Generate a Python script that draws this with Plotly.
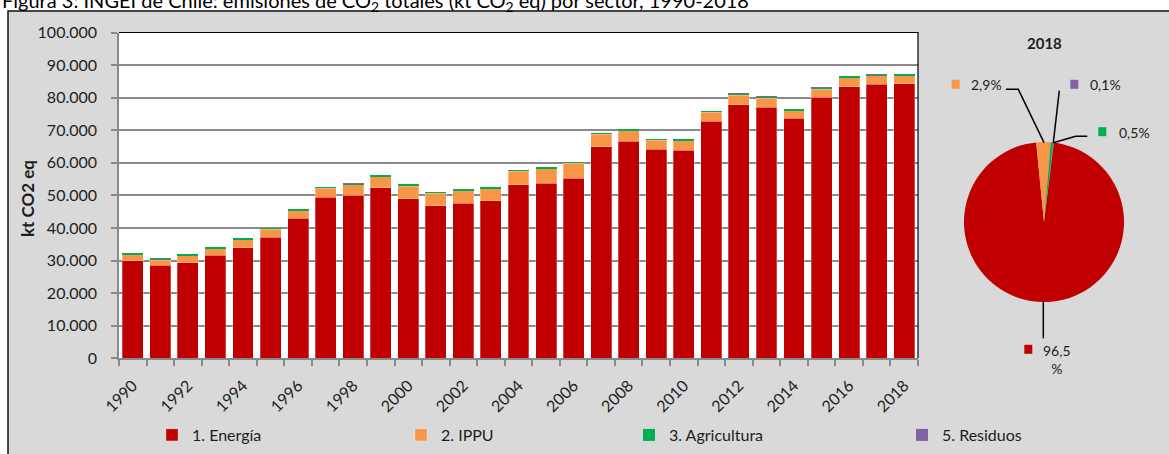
import plotly.graph_objects as go

# ---------------- data ----------------
years = list(range(1990, 2019))
energia = [30000, 28500, 29400, 31600, 34000, 37100, 43000, 49500, 50000, 52300,
           49000, 46900, 47600, 48300, 53300, 53800, 55300, 65000, 66600, 64100,
           63800, 72700, 77900, 77100, 73700, 80100, 83400, 84100, 84200]
ippu = [1750, 1650, 2150, 2050, 2450, 2450, 2350, 2650, 3200, 3400,
        3800, 3700, 3900, 3800, 4100, 4400, 4600, 3800, 3250, 2850,
        3050, 2850, 2850, 2650, 2350, 2550, 2750, 2550, 2530]
agricultura = [450, 430, 400, 450, 350, 300, 450, 400, 450, 500,
               550, 500, 500, 500, 450, 420, 420, 420, 450, 420,
               420, 420, 500, 550, 450, 450, 450, 430, 440]
residuos = [60, 60, 60, 60, 60, 60, 70, 70, 70, 70,
            70, 70, 70, 70, 80, 80, 80, 80, 80, 80,
            80, 80, 90, 90, 90, 90, 90, 90, 90]
series_names = ["1. Energía", "2. IPPU", "3. Agricultura", "5. Residuos"]
tick_years = list(range(1990, 2019, 2))
y_ticks = list(range(0, 100001, 10000))
pie_year = "2018"

# ---------------- style ----------------
colors = ["#C00000", "#F79646", "#00B050", "#8064A2"]
FONT = "Lato"
TXT = "#1e1e1e"
GRID = "#8a8a8a"
W, H = 1169, 454


def px(x):
    return x / W


def py(y):
    return 1 - y / H


fig = go.Figure()

legends = ["legend", "legend2", "legend3", "legend4"]
outline = ["rgba(255,255,255,0.45)", "rgba(255,255,255,0.45)", "rgba(0,0,0,0)", "rgba(0,0,0,0)"]
for name, vals, col, lg, ol in zip(series_names, [energia, ippu, agricultura, residuos],
                                   colors, legends, outline):
    fig.add_trace(go.Bar(x=years, y=vals, name=name, legend=lg,
                         marker=dict(color=col, line=dict(color=ol, width=0.6))))

vals_pie = [energia[-1], ippu[-1], agricultura[-1], residuos[-1]]
total = sum(vals_pie)
pct = [f"{v / total * 100:.1f}".replace(".", ",") + "%" for v in vals_pie]

fig.add_trace(go.Pie(values=vals_pie, labels=series_names, sort=False,
                     direction="clockwise", rotation=7, textinfo="none",
                     marker=dict(colors=colors, line=dict(width=0)),
                     showlegend=False,
                     domain=dict(x=[px(964), px(1124)], y=[py(302), py(142)])))

shapes = [
    dict(type="rect", xref="paper", yref="paper", x0=px(8), x1=px(1180), y0=py(470), y1=py(11),
         fillcolor="#d9d9d9", line=dict(color="#111", width=1.5), layer="below"),
    dict(type="rect", xref="paper", yref="paper", x0=px(119), x1=px(918), y0=py(358.3), y1=py(32.5),
         fillcolor="white", line=dict(width=0), layer="below"),
    dict(type="path", xref="paper", yref="paper",
         path=f"M{px(119)},{py(32.5)} L{px(918)},{py(32.5)} L{px(918)},{py(358.3)}",
         line=dict(color="black", width=1.2), layer="above"),
    # leader lines
    dict(type="path", xref="paper", yref="paper",
         path=f"M{px(1006)},{py(89.3)} L{px(1018.3)},{py(89.3)} L{px(1044)},{py(142.7)}",
         line=dict(color="black", width=1.5)),
    dict(type="path", xref="paper", yref="paper",
         path=f"M{px(1059.3)},{py(90.7)} L{px(1053.3)},{py(142.7)}",
         line=dict(color="black", width=1.5)),
    dict(type="path", xref="paper", yref="paper",
         path=f"M{px(1087.3)},{py(136.3)} L{px(1075.7)},{py(136.3)} L{px(1053.3)},{py(142.7)}",
         line=dict(color="black", width=1.5)),
    dict(type="path", xref="paper", yref="paper",
         path=f"M{px(1043.3)},{py(301.7)} L{px(1043.3)},{py(338.3)}",
         line=dict(color="black", width=1.5)),
]
for (cx, cy), col in zip([(1028.3, 349.3), (955.7, 84.3), (1102.3, 131.7), (1074.3, 84.3)], colors):
    shapes.append(dict(type="rect", xref="paper", yref="paper",
                       x0=px(cx - 4), x1=px(cx + 4), y0=py(cy + 4.5), y1=py(cy - 4.5),
                       fillcolor=col, line=dict(width=0)))


def ann(text, x, y, xanchor="center", size=14, **kw):
    d = dict(text=text, x=px(x), y=py(y), xref="paper", yref="paper",
             xanchor=xanchor, yanchor="middle", showarrow=False,
             font=dict(family=FONT, size=size, color=TXT))
    d.update(kw)
    return d


annotations = [
    dict(text="Figura 3: INGEI de Chile: emisiones de CO<sub>2</sub> totales (kt CO<sub>2</sub> eq) por sector, 1990-2018",
         x=px(0), y=py(17), xref="paper", yref="paper", xanchor="left", yanchor="bottom",
         showarrow=False, font=dict(family=FONT, size=20, color="black")),
    ann("<b>kt CO2 eq</b>", 28, 199, size=17, textangle=-90),
    ann(f"<b>{pie_year}</b>", 1044, 43, size=15),
    ann(pct[1], 969, 84.5, xanchor="left"),
    ann(pct[3], 1088, 84.5, xanchor="left"),
    ann(pct[2], 1116.5, 132, xanchor="left"),
    ann(pct[0][:-1] + "<br>%", 1057, 359.5),
]

legend_common = dict(orientation="h", yanchor="middle", xanchor="left", bgcolor="rgba(0,0,0,0)",
                     font=dict(family=FONT, size=16, color=TXT), itemclick=False,
                     itemdoubleclick=False, borderwidth=0)
leg_x = [172, 421, 649, 922]

fig.update_layout(
    template="none",
    width=W, height=H, autosize=False,
    margin=dict(l=0, r=0, t=0, b=0, pad=0),
    paper_bgcolor="white", plot_bgcolor="rgba(0,0,0,0)",
    barmode="stack", bargap=0.24,
    separators=",.",
    shapes=shapes, annotations=annotations,
    legend=dict(x=px(leg_x[0] - 20), y=py(435), **legend_common),
    legend2=dict(x=px(leg_x[1] - 20), y=py(435), **legend_common),
    legend3=dict(x=px(leg_x[2] - 20), y=py(435), **legend_common),
    legend4=dict(x=px(leg_x[3] - 20), y=py(435), **legend_common),
    xaxis=dict(domain=[px(119), px(918)], range=[1989.5, 2018.5], automargin=False,
               tickvals=tick_years, ticktext=[str(t) for t in tick_years],
               tickangle=-45, ticks="", showgrid=False, zeroline=False,
               showline=True, linecolor=GRID, linewidth=1.5,
               ticklabelstandoff=10,
               minor=dict(tick0=1989.5, dtick=1, ticks="outside", ticklen=6,
                          tickcolor=GRID, tickwidth=1.5, showgrid=False),
               tickfont=dict(family=FONT, size=16, color=TXT)),
    yaxis=dict(domain=[py(358.3), py(32.5)], range=[0, 100000], automargin=False,
               tickvals=y_ticks, tickformat=",d", ticks="outside", ticklen=6,
               tickcolor=GRID, tickwidth=1.5, showgrid=True, gridcolor=GRID,
               gridwidth=1.5, showline=True, linecolor=GRID, linewidth=1.5,
               zeroline=False, ticklabelstandoff=11,
               tickfont=dict(family=FONT, size=16, color=TXT)),
)

fig.write_html("out.html", config={"responsive": False, "displayModeBar": False},
               post_script="document.body.style.margin='0';document.body.style.overflow='hidden';")
